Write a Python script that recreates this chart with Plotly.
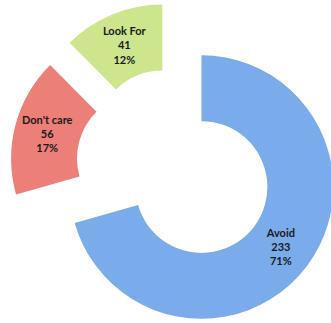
import plotly.graph_objects as go

# Survey responses
categories = ["Avoid", "Don't care", "Look For"]
counts = [233, 56, 41]
colors = ["#7aabea", "#ec7f77", "#cde68e"]

fig = go.Figure(
    go.Pie(
        labels=categories,
        values=counts,
        hole=0.5,
        sort=False,
        direction="clockwise",
        rotation=0,
        pull=[0.252, 0.252, 0.252],
        marker=dict(colors=colors, line=dict(width=0)),
        texttemplate="<b>%{label}<br>%{value}<br>%{percent:.0%}</b>",
        textposition="inside",
        insidetextorientation="horizontal",
        textfont=dict(family="Lato, 'Open Sans', sans-serif", size=11, color="#1a1a1a"),
        hoverinfo="label+value+percent",
        showlegend=False,
    )
)

# The exploded ring's bounding circle is a little larger than the visible marks,
# so the canvas extends past the window edges where nothing is drawn.
fig.update_layout(
    width=346,
    height=332,
    margin=dict(l=4, r=0, t=2, b=0),
    paper_bgcolor="white",
    plot_bgcolor="white",
    uniformtext=dict(minsize=11, mode="show"),
)

fig.write_html(
    "out.html",
    post_script="document.documentElement.style.overflow='hidden';document.body.style.overflow='hidden';",
)
